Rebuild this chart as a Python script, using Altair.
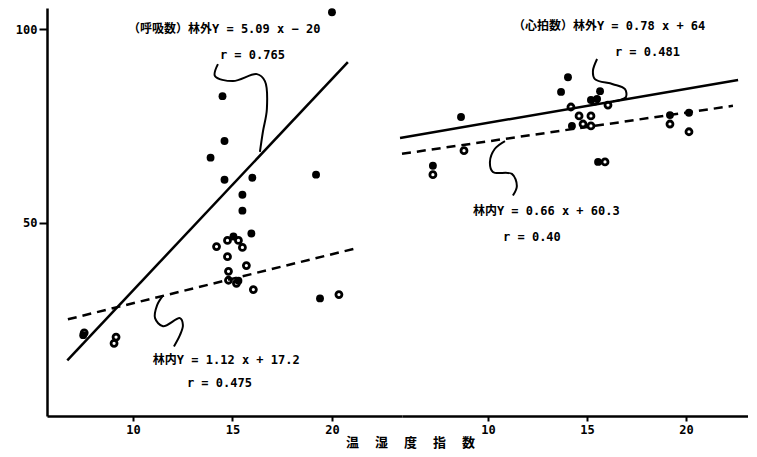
import altair as alt
import pandas as pd

# ---------------- data ----------------
# 呼吸数 (left panel)
resp_out_x = [20.0, 14.5, 14.6, 13.9, 14.6, 16.0, 19.2, 15.5, 15.5, 15.95, 15.05, 15.3, 19.4, 7.5]
resp_out_y = [104.4, 82.7, 71.1, 66.8, 61.1, 61.6, 62.4, 57.2, 53.1, 47.2, 46.4, 35.0, 30.4, 20.9]
resp_in_x = [14.2, 14.75, 15.3, 15.5, 14.75, 15.7, 14.8, 14.8, 15.2, 16.05, 20.35, 9.15, 9.05, 7.55]
resp_in_y = [43.8, 45.4, 45.4, 43.6, 41.2, 38.9, 37.4, 35.1, 34.3, 32.7, 31.4, 20.4, 18.8, 21.5]
resp_fit_out_x = [6.7, 20.8]
resp_fit_out_y = [14.4, 91.5]
resp_fit_in_x = [6.73, 21.16]
resp_fit_in_y = [25.0, 43.3]

# 心拍数 (right panel)
pulse_out_x = [14.04, 13.69, 8.64, 15.66, 15.2, 15.51, 19.19, 20.15, 7.22, 15.56, 14.24]
pulse_out_y = [87.6, 83.8, 77.3, 84.0, 81.7, 82.0, 77.8, 78.4, 64.7, 65.7, 75.0]
pulse_in_x = [14.19, 16.06, 14.6, 15.2, 14.8, 15.2, 19.19, 20.15, 8.79, 7.22, 15.91, 15.4]
pulse_in_y = [79.9, 80.4, 77.6, 77.6, 75.5, 75.0, 75.5, 73.5, 68.6, 62.4, 65.7, 81.4]
pulse_fit_out_x = [5.56, 22.63]
pulse_fit_out_y = [71.9, 86.9]
pulse_fit_in_x = [5.66, 22.37]
pulse_fit_in_y = [67.8, 80.2]

x_ticks = [10, 15, 20]
y_ticks = [50, 100]
x_title = "温 　湿 　度 　指 　数"

# annotation texts
resp_labels = ["（呼吸数）林外Y = 5.09 x − 20", "r = 0.765", "林内Y = 1.12 x + 17.2", "r = 0.475"]
pulse_labels = ["（心拍数）林外Y = 0.78 x + 64", "r = 0.481", "林内Y = 0.66 x + 60.3", "r = 0.40"]

# annotation placement (data coordinates)
resp_label_x = [9.75, 14.37, 11.0, 12.71]
resp_label_y = [100.0, 93.3, 14.4, 8.5]
pulse_label_x = [11.26, 16.41, 9.24, 10.76]
pulse_label_y = [100.8, 94.1, 53.1, 46.4]

# leader squiggles (data coordinates)
resp_sq1_x = [14.27, 14.12, 15.03, 16.23, 16.63, 16.73, 16.53, 16.38]
resp_sq1_y = [91.0, 87.9, 86.6, 88.4, 86.6, 79.4, 73.5, 68.3]
resp_sq2_x = [11.51, 11.21, 11.11, 11.51, 12.36, 12.51, 12.36, 12.06]
resp_sq2_y = [31.2, 28.6, 25.3, 23.2, 25.3, 23.5, 20.9, 18.0]
pulse_sq1_x = [15.51, 15.30, 15.40, 16.31, 16.92, 16.97, 16.67, 16.31]
pulse_sq1_y = [92.3, 89.2, 87.1, 85.8, 84.5, 82.5, 81.7, 81.4]
pulse_sq2_x = [10.86, 10.35, 10.10, 10.25, 11.21, 11.46, 11.26]
pulse_sq2_y = [71.1, 69.1, 65.7, 63.1, 62.6, 59.5, 57.0]

FONT = "DejaVu Sans Mono, Noto Sans CJK JP"
CJK = "Noto Sans CJK JP"
NUMFONT = "DejaVu Sans Mono"
Y_DOMAIN = [0, 105.5]
PLOT_H = 408


def panel(out_x, out_y, in_x, in_y, fo_x, fo_y, fi_x, fi_y, sq, labels, lx, ly,
          xdom, width, left):
    xs = alt.Scale(domain=xdom, nice=False, zero=False)
    ys = alt.Scale(domain=Y_DOMAIN, nice=False, zero=False)
    common = dict(grid=False, labelFont=NUMFONT, labelFontSize=12, labelFontWeight="bold",
                  labelColor="black", tickWidth=2, tickColor="black",
                  domainColor="black", domainWidth=2.5)
    if left:
        xaxis = alt.Axis(values=x_ticks, title=x_title, titleX=363, titleY=26,
                         titleAlign="center", titleBaseline="middle",
                         titleFont=CJK, titleFontSize=13, titleFontWeight="bold",
                         titleColor="black", tickSize=5, labelPadding=3, **common)
        yaxis = alt.Axis(values=y_ticks, title=None, tickSize=8, labelPadding=2,
                         minExtent=38, maxExtent=38, **common)
    else:
        xaxis = alt.Axis(values=x_ticks, title=None, tickSize=5, labelPadding=3, **common)
        yaxis = None

    df_out = pd.DataFrame({"x": out_x, "y": out_y})
    df_in = pd.DataFrame({"x": in_x, "y": in_y})
    df_fo = pd.DataFrame({"x": fo_x, "y": fo_y})
    df_fi = pd.DataFrame({"x": fi_x, "y": fi_y})
    sq_rows = []
    for k, (sx, sy) in enumerate(sq):
        for i, (a, b) in enumerate(zip(sx, sy)):
            sq_rows.append({"x": a, "y": b, "k": k, "i": i})
    df_sq = pd.DataFrame(sq_rows)
    df_txt = pd.DataFrame({"x": lx, "y": ly, "t": labels})

    X = alt.X("x:Q", scale=xs, axis=xaxis)
    Y = alt.Y("y:Q", scale=ys, axis=yaxis)

    fit_out = alt.Chart(df_fo).mark_line(color="black", strokeWidth=2.5).encode(x=X, y=Y)
    fit_in = alt.Chart(df_fi).mark_line(color="black", strokeWidth=2.5,
                                         strokeDash=[9, 6]).encode(x=X, y=Y)
    squig = alt.Chart(df_sq).mark_line(color="black", strokeWidth=2,
                                       interpolate="catmull-rom").encode(
        x=X, y=Y, detail="k:N", order="i:Q")
    filled = alt.Chart(df_out).mark_circle(color="black", size=62, opacity=1).encode(x=X, y=Y)
    rings = alt.Chart(df_in).mark_point(color="black", filled=False, size=36,
                                        strokeWidth=2.8, opacity=1).encode(x=X, y=Y)
    txt = alt.Chart(df_txt).mark_text(font=FONT, fontSize=12, fontWeight="bold",
                                      align="left", baseline="middle",
                                      color="black").encode(x=X, y=Y, text="t:N")
    return alt.layer(fit_out, fit_in, squig, filled, rings, txt).properties(
        width=width, height=PLOT_H)


left = panel(resp_out_x, resp_out_y, resp_in_x, resp_in_y,
             resp_fit_out_x, resp_fit_out_y, resp_fit_in_x, resp_fit_in_y,
             [(resp_sq1_x, resp_sq1_y), (resp_sq2_x, resp_sq2_y)],
             resp_labels, resp_label_x, resp_label_y,
             [5.68, 23.52], 355, True)
right = panel(pulse_out_x, pulse_out_y, pulse_in_x, pulse_in_y,
              pulse_fit_out_x, pulse_fit_out_y, pulse_fit_in_x, pulse_fit_in_y,
              [(pulse_sq1_x, pulse_sq1_y), (pulse_sq2_x, pulse_sq2_y)],
              pulse_labels, pulse_label_x, pulse_label_y,
              [5.66, 23.13], 346, False)

chart = alt.hconcat(left, right, spacing=0, bounds="flush").resolve_scale(
    x="independent", y="independent"
).properties(
    padding={"left": 1, "top": 0, "right": 0, "bottom": 0},
    background="white",
).configure_view(stroke=None)

chart.save("out.html", embed_options={"renderer": "svg", "actions": False})
